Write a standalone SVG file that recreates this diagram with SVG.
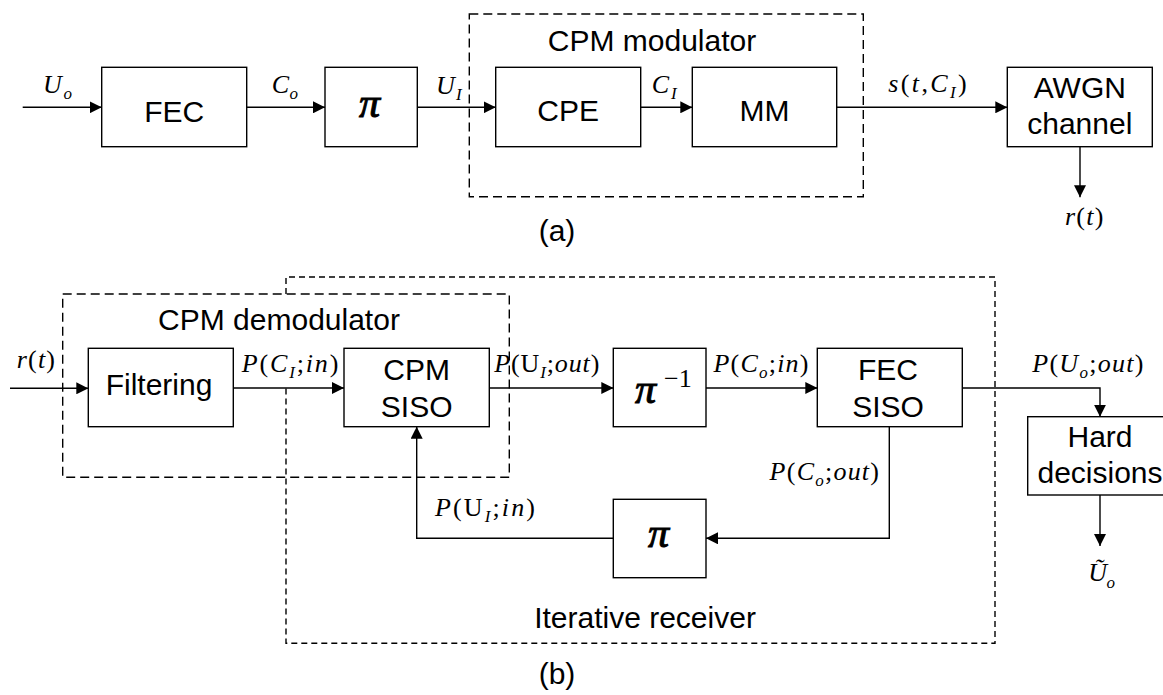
<svg xmlns="http://www.w3.org/2000/svg" width="1163" height="695" viewBox="0 0 1163 695">
<style>
.box{fill:#fff;stroke:#000;stroke-width:1.4}
.dl{fill:none;stroke:#000;stroke-width:1.4;stroke-dasharray:9 5}
.ds{fill:none;stroke:#000;stroke-width:1.4;stroke-dasharray:6 4}
.ln{fill:none;stroke:#000;stroke-width:1.4}
.ar{marker-end:url(#ah)}
.t{font-family:"Liberation Sans",Arial,sans-serif;font-size:30px;fill:#000;text-anchor:middle}
.m{font-family:"Liberation Serif","Times New Roman",serif;font-size:26px;font-style:italic;fill:#000}
.u{font-style:normal}
.s{font-size:17px}
.pi{font-family:"Liberation Serif","Times New Roman",serif;font-size:42px;font-style:italic;fill:#000;stroke:#000;stroke-width:1}
</style>
<defs>
<marker id="ah" markerUnits="userSpaceOnUse" markerWidth="12" markerHeight="12" refX="12" refY="6" orient="auto">
<path d="M0,0 L12,6 L0,12 z" fill="#000"/>
</marker>
</defs>
<rect width="1163" height="695" fill="#fff"/>

<g id="cpm-modulator">
<rect class="dl" x="469.3" y="14" width="394" height="182.7"/>
<text class="t" x="652" y="50.7">CPM modulator</text>
</g>
<g id="iterative-receiver">
<path class="ds" d="M286,294 V277 H995 V643.3 H286 V388"/>
<text class="t" x="645" y="628.3">Iterative receiver</text>
</g>
<g id="cpm-demodulator">
<rect class="dl" x="62.7" y="294" width="446.6" height="183.3"/>
<text class="t" x="279" y="330">CPM demodulator</text>
</g>

<g id="connectors">
<line class="ln ar" x1="22.7" y1="107.3" x2="101.7" y2="107.3"/>
<line class="ln ar" x1="246.7" y1="107.3" x2="325" y2="107.3"/>
<line class="ln ar" x1="417.3" y1="107.3" x2="495.7" y2="107.3"/>
<line class="ln ar" x1="640.7" y1="107.3" x2="692.3" y2="107.3"/>
<line class="ln ar" x1="836.7" y1="107.3" x2="1007.3" y2="107.3"/>
<line class="ln ar" x1="1080" y1="146.7" x2="1080" y2="197.3"/>
<line class="ln ar" x1="10" y1="388.3" x2="88.3" y2="388.3"/>
<line class="ln ar" x1="233.3" y1="388" x2="344" y2="388"/>
<line class="ln ar" x1="489.3" y1="388" x2="613.3" y2="388"/>
<line class="ln ar" x1="706" y1="388" x2="817.3" y2="388"/>
<polyline class="ln ar" points="962.3,388 1100,388 1100,416.7"/>
<polyline class="ln ar" points="889.3,426.7 889.3,538.3 706,538.3"/>
<polyline class="ln ar" points="613.3,538.3 416.7,538.3 416.7,426.7"/>
<line class="ln ar" x1="1100" y1="495" x2="1100" y2="546"/>
</g>

<g id="labels">
<text class="m" x="43" y="93.3" textLength="29" lengthAdjust="spacing">U<tspan class="s" dy="6">o</tspan></text>
<text class="m" x="271.7" y="93" textLength="26.3" lengthAdjust="spacing">C<tspan class="s" dy="6">o</tspan></text>
<text class="m" x="436" y="94" textLength="25.7" lengthAdjust="spacing">U<tspan class="s" dy="6">I</tspan></text>
<text class="m" x="651.7" y="93.3" textLength="25" lengthAdjust="spacing">C<tspan class="s" dy="6">I</tspan></text>
<text class="m" x="888.3" y="91.7" textLength="78.4" lengthAdjust="spacing">s<tspan class="u">(</tspan>t<tspan class="u">,</tspan>C<tspan class="s" dy="6">I</tspan><tspan class="u" dy="-6">)</tspan></text>
<text class="m" x="1065" y="225" textLength="38.3" lengthAdjust="spacing">r<tspan class="u">(</tspan>t<tspan class="u">)</tspan></text>
<text class="m" x="16.7" y="368.3" textLength="38.3" lengthAdjust="spacing">r<tspan class="u">(</tspan>t<tspan class="u">)</tspan></text>
<text class="m" x="241.7" y="371.7" textLength="96.6" lengthAdjust="spacing">P<tspan class="u">(</tspan>C<tspan class="s" dy="6">I</tspan><tspan class="u" dy="-6">;</tspan>in<tspan class="u">)</tspan></text>
<text class="m" x="494.3" y="371.7" textLength="105" lengthAdjust="spacing">P<tspan class="u">(U</tspan><tspan class="s" dy="6">I</tspan><tspan class="u" dy="-6">;</tspan>out<tspan class="u">)</tspan></text>
<text class="m" x="713.5" y="371.7" textLength="95" lengthAdjust="spacing">P<tspan class="u">(</tspan>C<tspan class="s" dy="6">o</tspan><tspan class="u" dy="-6">;</tspan>in<tspan class="u">)</tspan></text>
<text class="m" x="1032.3" y="371.7" textLength="111" lengthAdjust="spacing">P<tspan class="u">(</tspan>U<tspan class="s" dy="6">o</tspan><tspan class="u" dy="-6">;</tspan>out<tspan class="u">)</tspan></text>
<text class="m" x="769.6" y="480" textLength="109.4" lengthAdjust="spacing">P<tspan class="u">(</tspan>C<tspan class="s" dy="6">o</tspan><tspan class="u" dy="-6">;</tspan>out<tspan class="u">)</tspan></text>
<text class="m" x="435" y="516" textLength="100" lengthAdjust="spacing">P<tspan class="u">(U</tspan><tspan class="s" dy="6">I</tspan><tspan class="u" dy="-6">;</tspan>in<tspan class="u">)</tspan></text>
<text class="m" x="1088.3" y="581" textLength="26.7" lengthAdjust="spacing">Ũ<tspan class="s" dy="7">o</tspan></text>
<text class="t" x="557" y="241">(a)</text>
<text class="t" x="557" y="684">(b)</text>
</g>

<g id="fec">
<rect class="box" x="101.7" y="67.3" width="145" height="79.4"/>
<text class="t" x="174.2" y="121.5">FEC</text>
</g>
<g id="pi-a">
<rect class="box" x="325" y="67.3" width="92.3" height="79.4"/>
<text class="pi" x="359" y="116.7">π</text>
</g>
<g id="cpe">
<rect class="box" x="495.7" y="67.3" width="145" height="79.4"/>
<text class="t" x="568.2" y="120.7">CPE</text>
</g>
<g id="mm">
<rect class="box" x="692.3" y="67.3" width="144.4" height="79.4"/>
<text class="t" x="764.5" y="120.7">MM</text>
</g>
<g id="awgn">
<rect class="box" x="1007.3" y="67.3" width="145" height="79.4"/>
<text class="t" x="1079.8" y="98.3">AWGN</text>
<text class="t" x="1079.8" y="134">channel</text>
</g>
<g id="filtering">
<rect class="box" x="88.3" y="348.3" width="145" height="78.4"/>
<text class="t" x="159" y="395">Filtering</text>
</g>
<g id="cpm-siso">
<rect class="box" x="344" y="348.3" width="145.3" height="78.4"/>
<text class="t" x="416.7" y="380">CPM</text>
<text class="t" x="416.7" y="417">SISO</text>
</g>
<g id="pi-inv">
<rect class="box" x="613.3" y="348.3" width="92.7" height="78.4"/>
<text class="pi" x="635" y="403.3">π</text>
<text class="m u" x="664" y="386.7" font-size="24">−1</text>
</g>
<g id="fec-siso">
<rect class="box" x="817.3" y="348.3" width="145" height="78.4"/>
<text class="t" x="888" y="380">FEC</text>
<text class="t" x="888" y="417">SISO</text>
</g>
<g id="hard-decisions">
<rect class="box" x="1027.7" y="416.7" width="145" height="78.3"/>
<text class="t" x="1100" y="446.7">Hard</text>
<text class="t" x="1100" y="482.7">decisions</text>
</g>
<g id="pi-b">
<rect class="box" x="613.3" y="499.3" width="92.7" height="78.4"/>
<text class="pi" x="648" y="547">π</text>
</g>
</svg>
